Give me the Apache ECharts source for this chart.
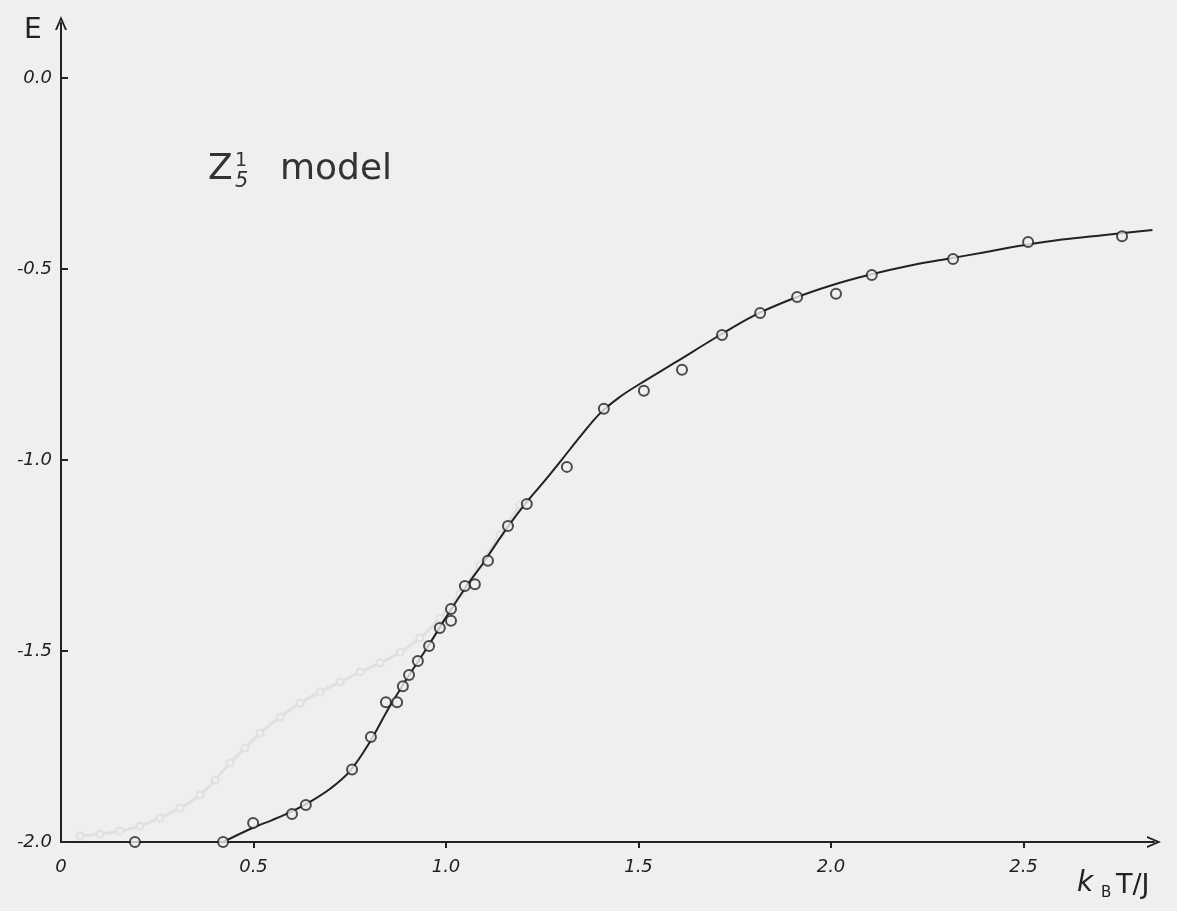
<!DOCTYPE html>
<html>
<head>
<meta charset="utf-8">
<script src="https://cdn.jsdelivr.net/npm/echarts@6/dist/echarts.min.js"></script>
<style>
html,body{margin:0;padding:0;background:#efefef;}
#chart{width:1177px;height:911px;}
</style>
</head>
<body>
<div id="chart"></div>
<script>
// ---- data ----
var xTickValues = [0.5, 1.0, 1.5, 2.0, 2.5];
var xLabelValues = [0, 0.5, 1.0, 1.5, 2.0, 2.5];
var yTickValues = [-2.0, -1.5, -1.0, -0.5, 0.0];

// measured points (k_B T/J, E)
var pointT = [0.192, 0.421, 0.499, 0.600, 0.636, 0.756, 0.805, 0.844, 0.873, 0.888, 0.904, 0.927, 0.956, 0.984, 1.013, 1.013, 1.049, 1.075, 1.109, 1.161, 1.210, 1.314, 1.410, 1.514, 1.613, 1.717, 1.816, 1.912, 2.013, 2.106, 2.317, 2.512, 2.756];
var pointE = [-2.000, -2.000, -1.950, -1.927, -1.903, -1.810, -1.725, -1.634, -1.634, -1.592, -1.563, -1.526, -1.487, -1.440, -1.421, -1.390, -1.330, -1.325, -1.264, -1.173, -1.115, -1.018, -0.866, -0.819, -0.764, -0.673, -0.615, -0.573, -0.565, -0.516, -0.474, -0.429, -0.414];

// hand-drawn fitted curve
var curveT = [0.421, 0.50, 0.55, 0.60, 0.65, 0.70, 0.75, 0.80, 0.85, 0.90, 0.95, 1.00, 1.05, 1.10, 1.15, 1.20, 1.25, 1.30, 1.35, 1.40, 1.45, 1.50, 1.60, 1.70, 1.80, 1.90, 2.00, 2.10, 2.20, 2.30, 2.40, 2.50, 2.60, 2.70, 2.835];
var curveE = [-2.000, -1.962, -1.942, -1.920, -1.893, -1.860, -1.815, -1.742, -1.652, -1.570, -1.493, -1.412, -1.335, -1.265, -1.190, -1.122, -1.062, -1.000, -0.937, -0.878, -0.836, -0.803, -0.742, -0.680, -0.622, -0.578, -0.543, -0.515, -0.492, -0.474, -0.456, -0.438, -0.423, -0.412, -0.398];

// faint show-through from the back of the sheet
var ghostT = [0.049, 0.101, 0.153, 0.205, 0.257, 0.309, 0.361, 0.400, 0.439, 0.478, 0.517, 0.569, 0.621, 0.673, 0.725, 0.777, 0.829, 0.881, 0.932, 0.984, 1.036, 1.088, 1.140, 1.192];
var ghostE = [-1.984, -1.979, -1.971, -1.958, -1.937, -1.911, -1.877, -1.838, -1.793, -1.754, -1.715, -1.673, -1.636, -1.607, -1.581, -1.555, -1.531, -1.503, -1.466, -1.414, -1.351, -1.275, -1.196, -1.118];

function zip(a, b) { return a.map(function (v, i) { return [v, b[i]]; }); }

var INK = '#222222';
var PAPER = '#efefef';
var HAND = '"DejaVu Sans", sans-serif';
var arrow = 'path://M6,0 L12,14 L10,14 L6,4.5 L2,14 L0,14 Z';

var chart = echarts.init(document.getElementById('chart'));
chart.setOption({
  backgroundColor: PAPER,
  animation: false,
  grid: { left: 61, right: 23, top: 23, bottom: 69, containLabel: false },
  xAxis: {
    type: 'value', min: 0, max: 2.839, interval: 0.5,
    splitLine: { show: false },
    axisLine: { onZero: false, lineStyle: { color: INK, width: 2 }, symbol: ['none', arrow], symbolSize: [12, 14] },
    axisTick: { show: true, inside: false, length: 6, lineStyle: { color: INK, width: 2 }, customValues: xTickValues },
    axisLabel: {
      customValues: xLabelValues, margin: 16, color: INK, fontSize: 18, fontStyle: 'italic', fontFamily: HAND,
      formatter: function (v) { return v === 0 ? '0' : v.toFixed(1); }
    }
  },
  yAxis: {
    type: 'value', min: -2, max: 0.144, interval: 0.5,
    splitLine: { show: false },
    axisLine: { onZero: false, lineStyle: { color: INK, width: 2 }, symbol: ['none', arrow], symbolSize: [12, 14] },
    axisTick: { show: true, inside: true, length: 7, lineStyle: { color: INK, width: 2 }, customValues: yTickValues },
    axisLabel: {
      customValues: yTickValues, margin: 9, color: INK, fontSize: 18, fontStyle: 'italic', fontFamily: HAND,
      formatter: function (v) { return v.toFixed(1); }
    }
  },
  series: [
    {
      type: 'line', data: zip(ghostT, ghostE), smooth: 0.4, silent: true, z: 1,
      symbol: 'circle', symbolSize: 7, showSymbol: true,
      lineStyle: { color: '#e0e0e0', width: 3 },
      itemStyle: { color: PAPER, borderColor: '#e0e0e0', borderWidth: 2 }
    },
    {
      type: 'line', data: zip(curveT, curveE), smooth: 0.35, showSymbol: false, silent: true, z: 2,
      lineStyle: { color: INK, width: 2 }
    },
    {
      type: 'scatter', data: zip(pointT, pointE), symbol: 'circle', symbolSize: 10, z: 3,
      itemStyle: { color: PAPER, borderColor: INK, borderWidth: 2 }
    }
  ],
  graphic: [
    { type: 'text', x: 24, y: 31, style: { text: 'E', fontSize: 28, fontFamily: HAND, fill: INK, align: 'left', verticalAlign: 'middle' } },
    { type: 'text', x: 208, y: 170, style: { text: 'Z', fontSize: 36, fontFamily: HAND, fill: '#333', align: 'left', verticalAlign: 'middle' } },
    { type: 'text', x: 235, y: 161, style: { text: '1', fontSize: 19, fontFamily: HAND, fill: '#333', align: 'left', verticalAlign: 'middle' } },
    { type: 'text', x: 235, y: 182, style: { text: '5', fontSize: 21, fontStyle: 'italic', fontFamily: HAND, fill: '#333', align: 'left', verticalAlign: 'middle' } },
    { type: 'text', x: 280, y: 170, style: { text: 'model', fontSize: 36, fontFamily: HAND, fill: '#333', align: 'left', verticalAlign: 'middle' } },
    { type: 'text', x: 1077, y: 884, style: { text: 'k', fontSize: 28, fontStyle: 'italic', fontFamily: HAND, fill: INK, align: 'left', verticalAlign: 'middle' } },
    { type: 'text', x: 1101, y: 893, style: { text: 'B', fontSize: 15, fontFamily: HAND, fill: INK, align: 'left', verticalAlign: 'middle' } },
    { type: 'text', x: 1116, y: 886, style: { text: 'T/J', fontSize: 27, fontFamily: HAND, fill: INK, align: 'left', verticalAlign: 'middle' } }
  ]
});
</script>
</body>
</html>
